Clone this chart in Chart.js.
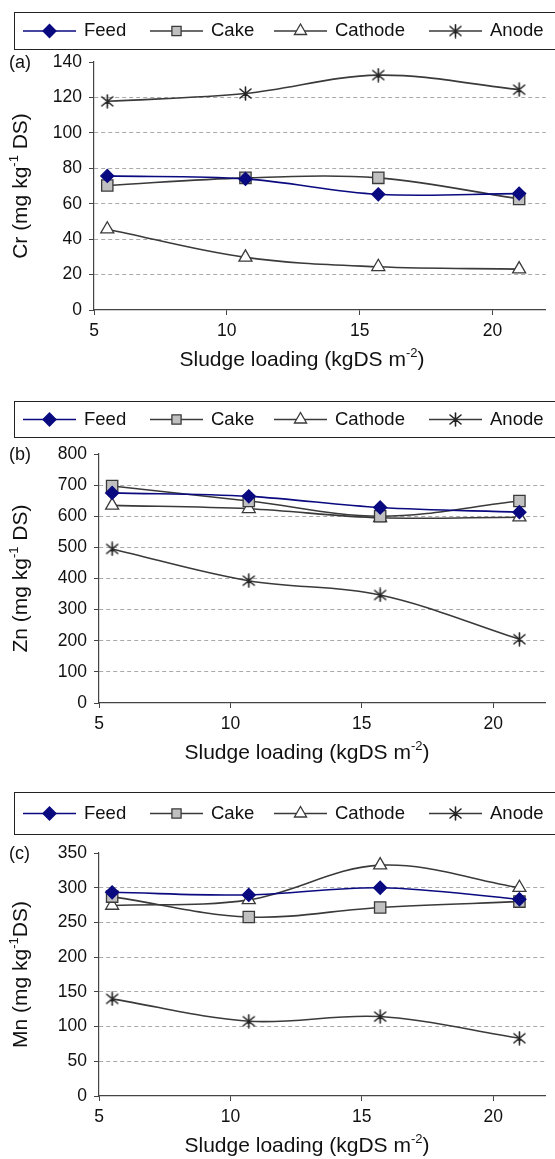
<!DOCTYPE html>
<html>
<head>
<meta charset="utf-8">
<script src="https://cdn.jsdelivr.net/npm/chart.js@4.4.1/dist/chart.umd.min.js"></script>
<style>
  html, body { margin: 0; padding: 0; background: #fff; }
  body { width: 555px; height: 1159px; position: relative; overflow: hidden; }
  .panel { position: absolute; left: 0; width: 555px; }
</style>
</head>
<body>
<div class="panel" style="top:0"><canvas id="chartA" width="555" height="385"></canvas></div>
<div class="panel" style="top:388px"><canvas id="chartB" width="555" height="385"></canvas></div>
<div class="panel" style="top:776px"><canvas id="chartC" width="555" height="383"></canvas></div>
<script>
// sludge loading (kgDS m-2) for the four runs
const loading = [5.5, 10.7, 15.7, 21.0];
const seriesNames = ['Feed', 'Cake', 'Cathode', 'Anode'];

// (a) Cr, mg/kg DS
const crFeed    = [75.7, 74.0, 65.3, 65.7];
const crCake    = [70.3, 74.6, 74.6, 62.7];
const crCathode = [45.6, 29.7, 24.4, 23.1];
const crAnode   = [117.8, 122.2, 132.6, 124.4];

// (b) Zn
const znFeed    = [675, 664, 628, 613];
const znCake    = [697, 649, 600, 649];
const znCathode = [635, 624, 595, 597];
const znAnode   = [495, 393, 347, 205];

// (c) Mn
const mnFeed    = [293.4, 289.6, 300, 283.4];
const mnCake    = [287.2, 257.8, 271.6, 280];
const mnCathode = [274.4, 282.5, 332.5, 300];
const mnAnode   = [139.9, 107.7, 114.4, 83.2];

const FAMILY = '"Liberation Sans", Arial, sans-serif';
const LEGEND_FONT = '18.5px ' + FAMILY;
const TITLE_FONT = '21px ' + FAMILY;
const SUP = '13px ' + FAMILY;
const TAG_FONT = '18px ' + FAMILY;
const legendX = [23, 150, 274, 429];

// 6-arm asterisk like the spreadsheet "star" marker
const star = document.createElement('canvas');
star.width = 15; star.height = 15;
(() => {
  const c = star.getContext('2d');
  c.strokeStyle = '#222'; c.lineWidth = 1.6; c.lineCap = 'round';
  c.beginPath();
  c.moveTo(7.5, 1); c.lineTo(7.5, 14);
  c.moveTo(2, 3); c.lineTo(13, 12);
  c.moveTo(2, 12); c.lineTo(13, 3);
  c.stroke();
})();

const styles = [
  { color: '#0a0a80', pointStyle: 'rectRot', radius: 6.5, fill: '#0a0a80', legendR: 6.5 },
  { color: '#3a3a3a', pointStyle: 'rect', radius: 8, fill: '#c0c0c0', legendR: 6.5 },
  { color: '#3a3a3a', pointStyle: 'triangle', radius: 7.5, fill: '#ffffff', legendR: 7 },
  { color: '#3a3a3a', pointStyle: star, radius: 7, fill: '#3a3a3a', legendR: 7 }
];

function richWidth(ctx, parts) {
  let w = 0;
  parts.forEach(p => { ctx.font = p.sup ? SUP : TITLE_FONT; w += ctx.measureText(p.t).width; });
  return w;
}
function drawRich(ctx, parts, cx, cy) {
  let x = cx - richWidth(ctx, parts) / 2;
  ctx.textAlign = 'left';
  ctx.textBaseline = 'middle';
  parts.forEach(p => {
    ctx.font = p.sup ? SUP : TITLE_FONT;
    ctx.fillText(p.t, x, p.sup ? cy - 7 : cy);
    x += ctx.measureText(p.t).width;
  });
}

const decor = {
  id: 'decor',
  afterDraw(chart, args, o) {
    const { ctx, chartArea: a } = chart;
    ctx.save();
    // legend box (runs off the right edge like the original)
    ctx.strokeStyle = '#222';
    ctx.lineWidth = 1;
    ctx.strokeRect(14.5, o.legendTop + 0.5, 600, o.legendH);
    const cy = o.legendTop + o.legendH / 2 + 0.5;
    chart.data.datasets.forEach((ds, i) => {
      const x0 = legendX[i];
      const s = styles[i];
      ctx.strokeStyle = s.color;
      ctx.lineWidth = 1.6;
      ctx.beginPath(); ctx.moveTo(x0, cy); ctx.lineTo(x0 + 53, cy); ctx.stroke();
      ctx.fillStyle = s.fill;
      ctx.strokeStyle = s.color;
      ctx.lineWidth = 1.3;
      Chart.helpers.drawPoint(ctx, { pointStyle: s.pointStyle, radius: s.legendR, rotation: 0, borderWidth: 1.3 }, x0 + 26.5, cy);
      ctx.fillStyle = '#111';
      ctx.font = LEGEND_FONT;
      ctx.textAlign = 'left';
      ctx.textBaseline = 'middle';
      ctx.fillText(ds.label, x0 + 61, cy);
    });
    // panel tag
    ctx.fillStyle = '#111';
    ctx.font = TAG_FONT;
    ctx.textAlign = 'left';
    ctx.textBaseline = 'middle';
    ctx.fillText(o.tag, 9, a.top + 1);
    // x title
    drawRich(ctx, [{ t: 'Sludge loading (kgDS m' }, { t: '-2', sup: true }, { t: ')' }], a.left + 208, a.bottom + 50);
    // y title
    ctx.translate(21, (a.top + a.bottom) / 2);
    ctx.rotate(-Math.PI / 2);
    drawRich(ctx, [{ t: o.metal + ' (mg kg' }, { t: '-1', sup: true }, { t: o.tail }], 0, 0);
    ctx.restore();
  }
};

const panels = [
  { id: 'chartA', tag: '(a)', metal: 'Cr', tail: ' DS)', yMax: 140, yStep: 20,
    values: [crFeed, crCake, crCathode, crAnode],
    legendTop: 12, legendH: 37, areaTop: 62, areaBottom: 310, areaLeft: 94, h: 385 },
  { id: 'chartB', tag: '(b)', metal: 'Zn', tail: ' DS)', yMax: 800, yStep: 100,
    values: [znFeed, znCake, znCathode, znAnode],
    legendTop: 13, legendH: 36, areaTop: 66, areaBottom: 315, areaLeft: 99, h: 385 },
  { id: 'chartC', tag: '(c)', metal: 'Mn', tail: 'DS)', yMax: 350, yStep: 50,
    values: [mnFeed, mnCake, mnCathode, mnAnode],
    legendTop: 16, legendH: 42, areaTop: 77, areaBottom: 320, areaLeft: 99, h: 383 }
];

panels.forEach(p => {
  const datasets = p.values.map((vals, i) => ({
    label: seriesNames[i],
    data: loading.map((x, k) => ({ x: x, y: vals[k] })),
    borderColor: styles[i].color,
    borderWidth: 1.6,
    tension: 0.35,
    pointStyle: styles[i].pointStyle,
    pointRadius: styles[i].radius,
    pointBackgroundColor: styles[i].fill,
    pointBorderColor: styles[i].color,
    pointBorderWidth: 1.3,
    clip: false
  }));

  new Chart(document.getElementById(p.id), {
    type: 'line',
    data: { datasets },
    options: {
      responsive: false,
      animation: false,
      events: [],
      layout: { padding: { top: p.areaTop, right: 9, left: 0, bottom: 0 } },
      plugins: { legend: { display: false }, tooltip: { enabled: false }, decor: p },
      scales: {
        x: {
          type: 'linear',
          min: 5, max: 22,
          afterFit: s => { s.height = p.h - p.areaBottom; },
          ticks: { stepSize: 5, includeBounds: false, padding: 6, color: '#111', font: { family: FAMILY, size: 17.5 } },
          grid: { drawOnChartArea: false, drawTicks: true, tickLength: 5, tickColor: '#444', color: '#444' },
          border: { color: '#444', width: 1.2 }
        },
        y: {
          min: 0, max: p.yMax,
          afterFit: s => { s.width = p.areaLeft; },
          ticks: { stepSize: p.yStep, padding: 7, color: '#111', font: { family: FAMILY, size: 17.5 } },
          grid: {
            color: c => (c.tick && (c.tick.value === p.yMax || c.tick.value === 0)) ? 'rgba(0,0,0,0)' : '#aaaaaa',
            lineWidth: 1,
            tickLength: 5,
            tickColor: '#444'
          },
          border: { color: '#444', width: 1.2, dash: [4, 3] }
        }
      }
    },
    plugins: [decor]
  });
});
</script>
</body>
</html>
